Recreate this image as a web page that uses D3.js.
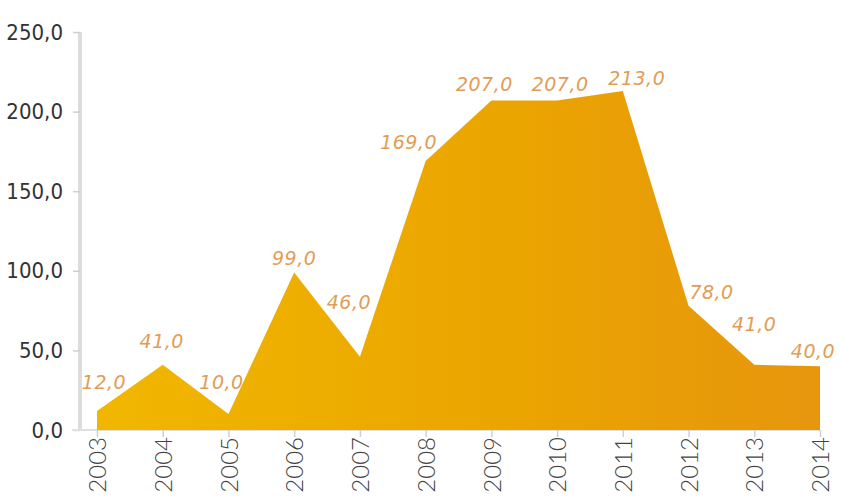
<!DOCTYPE html>
<html>
<head>
<meta charset="utf-8">
<script src="https://cdn.jsdelivr.net/npm/d3@7"></script>
<style>
  html, body { margin: 0; padding: 0; background: #fff; }
  svg { display: block; }
</style>
</head>
<body>
<svg id="chart" width="841" height="502"></svg>
<script>
// Annual values, 2003–2014
const years = ["2003","2004","2005","2006","2007","2008","2009","2010","2011","2012","2013","2014"];
const values = [12, 41, 10, 99, 46, 169, 207, 207, 213, 78, 41, 40];
const yTicks = [0, 50, 100, 150, 200, 250];

// Label nudges (dx, dy) from each point, so labels clear the filled area
const labelNudge = [[7,-22],[-1,-17],[-7,-25],[0,-7],[-11,-48],[-17,-12],[-7,-9],[3,-9],[14,-6],[23,-7],[0,-34],[-7,-8]];

const svg = d3.select("#chart");
const x = d3.scalePoint().domain(years).range([97, 820]);
const y = d3.scaleLinear().domain([0, 250]).range([430, 32]);
const fmt = d => d3.format(".1f")(d).replace(".", ",");

const defs = svg.append("defs");
const grad = defs.append("linearGradient")
  .attr("id", "fillGrad")
  .attr("gradientUnits", "userSpaceOnUse")
  .attr("x1", x(years[0])).attr("x2", x(years[years.length - 1]))
  .attr("y1", 0).attr("y2", 0);
grad.append("stop").attr("offset", "0%").attr("stop-color", "#F1B700");
grad.append("stop").attr("offset", "55%").attr("stop-color", "#EBA500");
grad.append("stop").attr("offset", "100%").attr("stop-color", "#E6960D");

// Y axis
const yAxis = svg.append("g")
  .attr("transform", "translate(80,0)")
  .call(d3.axisLeft(y).tickValues(yTicks).tickFormat(fmt).tickSize(7).tickPadding(10));
yAxis.select(".domain").attr("stroke", "#dcdcdc").attr("stroke-width", 4)
  .attr("d", `M0,${y(250)}V${y(0) + 1}`);
yAxis.selectAll(".tick line").attr("stroke", "#cfcfcf").attr("stroke-width", 1.5);
yAxis.selectAll(".tick text")
  .attr("fill", "#333")
  .style("font-family", "'Liberation Sans Narrow', 'DejaVu Sans Condensed', sans-serif")
  .style("font-size", "22px");

// X axis
const xAxis = svg.append("g")
  .attr("transform", `translate(0,${y(0)})`)
  .call(d3.axisBottom(x).tickSize(7).tickPadding(0));
xAxis.select(".domain").attr("stroke", "#e0e0e0").attr("stroke-width", 2)
  .attr("d", `M72,0H${x(years[years.length - 1])}`);
xAxis.selectAll(".tick line").attr("stroke", "#d0d0d0").attr("stroke-width", 1.5);
xAxis.selectAll(".tick text")
  .attr("fill", "#444")
  .attr("text-anchor", "end")
  .attr("transform", "translate(0,7) rotate(-90)")
  .attr("x", 0).attr("y", 0).attr("dy", "0.36em")
  .style("font-family", "Lato, 'Open Sans', sans-serif")
  .style("font-weight", 300)
  .style("font-size", "24px");

// Filled area
const area = d3.area()
  .x((d, i) => x(years[i]))
  .y0(y(0))
  .y1(d => y(d));
svg.append("path")
  .datum(values)
  .attr("d", area)
  .attr("fill", "url(#fillGrad)");

// Value labels
svg.append("g").selectAll("text")
  .data(values)
  .join("text")
  .attr("x", (d, i) => x(years[i]) + labelNudge[i][0])
  .attr("y", (d, i) => y(d) + labelNudge[i][1])
  .attr("text-anchor", "middle")
  .attr("fill", "#E39C52")
  .style("font-family", "'DejaVu Sans', sans-serif")
  .style("font-style", "oblique")
  .style("font-size", "19px")
  .style("letter-spacing", "0.5px")
  .text(fmt);
</script>
</body>
</html>
